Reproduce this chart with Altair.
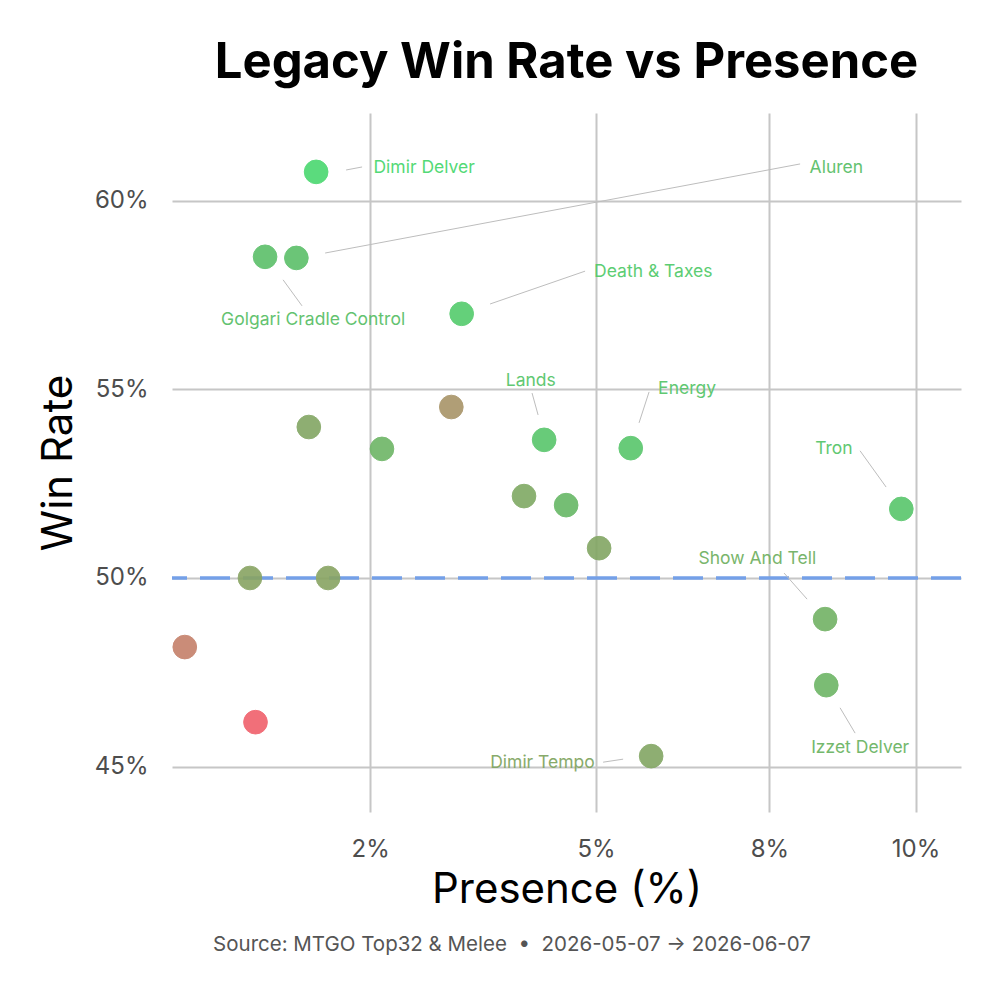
import altair as alt
import pandas as pd

# ---- data ----
deck_names = ["Dimir Delver", "Golgari Cradle Control", "Aluren", "Death & Taxes", "",
              "", "", "Lands", "Energy", "",
              "", "", "Tron", "", "",
              "Show And Tell", "Izzet Delver", "", "", "Dimir Tempo"]
presence = [2.03, 1.63, 1.87, 3.41, 1.97,
            2.61, 3.30, 4.35, 5.46, 4.11,
            4.62, 5.04, 9.74, 1.52, 2.13,
            8.41, 8.43, 1.09, 1.56, 5.74]
win_rate = [60.76, 58.51, 58.48, 57.00, 54.00,
            53.42, 54.53, 53.66, 53.44, 52.17,
            51.93, 50.79, 51.83, 50.00, 50.00,
            48.91, 47.16, 48.17, 46.18, 45.28]
signal = [1.00, 0.86, 0.86, 0.93, 0.70,
          0.80, 0.50, 0.90, 0.90, 0.72,
          0.82, 0.70, 0.90, 0.68, 0.68,
          0.78, 0.80, 0.25, 0.00, 0.70]

# label anchors (repelled) and leader segments, in data units
label_names = ["Dimir Delver", "Aluren", "Golgari Cradle Control", "Death & Taxes", "Lands",
               "Energy", "Tron", "Show And Tell", "Izzet Delver", "Dimir Tempo"]
label_x = [3.02, 8.60, 2.005, 5.77, 4.19, 6.25, 8.56, 7.31, 9.01, 4.33]
label_y = [60.86, 60.86, 56.84, 58.11, 55.22, 55.01, 53.42, 50.50, 45.50, 45.10]
label_signal = [1.00, 0.86, 0.86, 0.93, 0.90, 0.90, 0.90, 0.78, 0.80, 0.70]
seg_x1 = [2.285, 2.105, 1.766, 3.721, 4.205, 5.711, 9.008, 7.735, 8.664, 5.092]
seg_y1 = [60.81, 58.61, 57.90, 57.26, 54.90, 54.93, 53.37, 50.13, 46.56, 45.12]
seg_x2 = [2.427, 7.995, 1.915, 4.859, 4.277, 5.573, 9.467, 8.110, 8.922, 5.357]
seg_y2 = [60.89, 60.97, 57.21, 58.13, 54.32, 54.11, 52.41, 49.44, 45.89, 45.20]

x_tick_values = [2.5, 5, 7.5, 10]
x_tick_labels = ["2%", "5%", "8%", "10%"]
y_tick_values = [45, 50, 55, 60]
x_domain = [1.014, 10.85]
y_domain = [43.80, 62.32]
reference_win_rate = 50

title_text = "Legacy Win Rate vs Presence"
caption_text = "Source: MTGO Top32 & Melee\u00a0\u00a0\u2022\u00a0\u00a02026-05-07 \u2192 2026-06-07"

points = pd.DataFrame({"deck": deck_names, "presence": presence,
                       "win_rate": win_rate, "signal": signal})
labels = pd.DataFrame({"deck": label_names, "lx": label_x, "ly": label_y,
                       "signal": label_signal, "x1": seg_x1, "y1": seg_y1,
                       "x2": seg_x2, "y2": seg_y2})

FONT = "Inter"
color_scale = alt.Scale(domain=[0, 0.25, 0.5, 0.7, 0.85, 1.0],
                        range=["#f0606b", "#c5806a", "#a89468", "#82a663", "#5cbd69", "#4ad86f"])

label_expr = ""
for v, t in zip(x_tick_values, x_tick_labels):
    label_expr += f"datum.value == {v} ? '{t}' : "
label_expr += "datum.value + '%'"

xscale = alt.Scale(type="sqrt", domain=x_domain, zero=False, nice=False)
yscale = alt.Scale(domain=y_domain, zero=False, nice=False)

x_axis = alt.Axis(values=x_tick_values, labelExpr=label_expr, title="Presence (%)",
                  grid=True, gridColor="#c6c6c6", gridWidth=2, domain=False, ticks=False,
                  labelFont=FONT, labelFontSize=24, labelColor="#4d4d4d", labelPadding=25,
                  titleFont=FONT, titleFontSize=42, titleFontWeight="normal",
                  titleColor="#000000", titlePadding=8)
y_axis = alt.Axis(values=y_tick_values, labelExpr="datum.value + '%'", title="Win Rate",
                  grid=True, gridColor="#c6c6c6", gridWidth=2, domain=False, ticks=False,
                  labelFont=FONT, labelFontSize=24, labelColor="#4d4d4d", labelPadding=24,
                  titleFont=FONT, titleFontSize=42, titleFontWeight="normal",
                  titleColor="#000000", titlePadding=14)

base_pts = alt.Chart(points)

axes_layer = base_pts.mark_point(opacity=0).encode(
    x=alt.X("presence:Q", scale=xscale, axis=x_axis),
    y=alt.Y("win_rate:Q", scale=yscale, axis=y_axis),
)

ref_line = alt.Chart(pd.DataFrame({"y": [reference_win_rate]})).mark_rule(
    color="#74a0e8", strokeWidth=3.5, strokeDash=[30, 13]
).encode(y=alt.Y("y:Q", scale=yscale))

segments = alt.Chart(labels).mark_rule(color="#bdbdbd", strokeWidth=1).encode(
    x=alt.X("x1:Q", scale=xscale), y=alt.Y("y1:Q", scale=yscale),
    x2="x2:Q", y2="y2:Q",
)

dots = base_pts.mark_circle(size=560, opacity=0.9, strokeWidth=1).encode(
    x=alt.X("presence:Q", scale=xscale),
    y=alt.Y("win_rate:Q", scale=yscale),
    color=alt.Color("signal:Q", scale=color_scale, legend=None),
    stroke=alt.Color("signal:Q", scale=color_scale, legend=None),
)

texts = alt.Chart(labels).mark_text(font=FONT, fontSize=17.5, baseline="middle",
                                     align="center", opacity=0.95).encode(
    x=alt.X("lx:Q", scale=xscale), y=alt.Y("ly:Q", scale=yscale),
    text="deck:N",
    color=alt.Color("signal:Q", scale=color_scale, legend=None),
)

caption = alt.Chart(pd.DataFrame({"t": [caption_text]})).mark_text(
    font=FONT, fontSize=20.5, color="#555555", align="center", baseline="middle"
).encode(text="t:N", x=alt.value(340), y=alt.value(832))

chart = alt.layer(axes_layer, ref_line, segments, dots, texts, caption).properties(
    width=789, height=699,
    title=alt.Title(title_text, font=FONT, fontSize=49, fontWeight="bold",
                    color="#000000", anchor="middle", baseline="alphabetic",
                    offset=35, dy=49),
    autosize=alt.AutoSizeParams(type="none"),
    padding={"left": 164, "top": 105, "right": 30, "bottom": 170},
).configure(background="#ffffff").configure_view(stroke=None)

chart.save("out.html", embed_options={"renderer": "svg", "actions": False})
